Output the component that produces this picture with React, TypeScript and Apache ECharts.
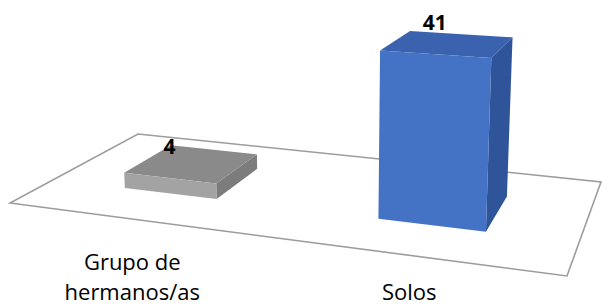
import React, { useEffect, useRef } from "react";
import * as echarts from "echarts";

const categories = ["Grupo de\nhermanos/as", "Solos"];
const values = [4, 41];
const valueLabels = ["4", "41"];
const frontColors = ["#A3A3A3", "#4472C4"];
const topColors = ["#8A8A8A", "#3A62AF"];
const sideColors = ["#7C7C7C", "#2F549A"];

// perspective mapping of the floor (u along categories, v in depth)
const PG = -0.1564, PH = 0.2145;
const PA = 468.3, PB = 157.6, PC = 10, PD = 29.8, PE = -40.3, PF = 203;

function proj(u: number, v: number, hp: number): [number, number] {
  const w = 1 + PG * u + PH * v;
  let x = (PA * u + PB * v + PC) / w;
  let y = (PD * u + PE * v + PF) / w;
  const hs = hp / w;
  x += (hs * (x - 330)) / 5000;
  y -= hs;
  return [x, y];
}

const V0 = 0.3, V1 = 0.7;

export default function App() {
  const ref = useRef<HTMLDivElement>(null);
  useEffect(() => {
    if (!ref.current) return;
    const chart = echarts.init(ref.current, null, { renderer: "svg" });
    chart.setOption({
      animation: false,
      grid: { left: 0, right: 0, top: 0, height: 197.5 },
      xAxis: { type: "category", data: categories, show: false },
      yAxis: { type: "value", min: 0, max: 50, show: false },
      series: [
        {
          type: "custom",
          z: 1,
          silent: true,
          data: [[0, 0]],
          renderItem: () => {
            const pts = [proj(0, 0, 0), proj(1, 0, 0), proj(1, 1, 0), proj(0, 1, 0)];
            return {
              type: "polygon",
              shape: { points: pts },
              style: { fill: "#ffffff", stroke: "#9C9C9C", lineWidth: 1.6 },
            };
          },
        },
        {
          type: "custom",
          z: 2,
          data: values.map((v, i) => [i, v]),
          renderItem: (params: any, api: any) => {
            const idx = api.value(0);
            const val = api.value(1);
            const cs = params.coordSys;
            const base = api.coord([idx, 0]);
            const top = api.coord([idx, val]);
            const band = api.size([1, 0])[0];
            const uc = (base[0] - cs.x) / cs.width;
            const hu = (band * 0.38) / 2 / cs.width;
            const hp = base[1] - top[1];
            const u0 = uc - hu, u1 = uc + hu;
            const front = [proj(u0, V0, 0), proj(u1, V0, 0), proj(u1, V0, hp), proj(u0, V0, hp)];
            const side = [proj(u1, V0, 0), proj(u1, V1, 0), proj(u1, V1, hp), proj(u1, V0, hp)];
            const topF = [proj(u0, V0, hp), proj(u1, V0, hp), proj(u1, V1, hp), proj(u0, V1, hp)];
            const lab = proj(uc, V0, hp);
            const cat = proj(uc, 0, 0);
            return {
              type: "group",
              children: [
                { type: "polygon", shape: { points: side }, style: { fill: sideColors[idx] } },
                { type: "polygon", shape: { points: topF }, style: { fill: topColors[idx] } },
                { type: "polygon", shape: { points: front }, style: { fill: frontColors[idx] } },
                {
                  type: "text",
                  style: {
                    text: valueLabels[idx],
                    x: lab[0],
                    y: lab[1] - 32,
                    align: "center",
                    verticalAlign: "middle",
                    font: 'bold 21px "Open Sans"',
                    fill: "#000000",
                  },
                },
                {
                  type: "text",
                  style: {
                    text: categories[idx],
                    x: cat[0],
                    y: 306,
                    align: "center",
                    verticalAlign: "bottom",
                    font: '22px "Open Sans"',
                    lineHeight: 30,
                    fill: "#000000",
                  },
                },
              ],
            };
          },
        },
      ],
    });
    return () => chart.dispose();
  }, []);
  return (
    <div
      ref={ref}
      style={{ position: "fixed", left: 0, top: 0, width: 602, height: 307, background: "#ffffff" }}
    />
  );
}
